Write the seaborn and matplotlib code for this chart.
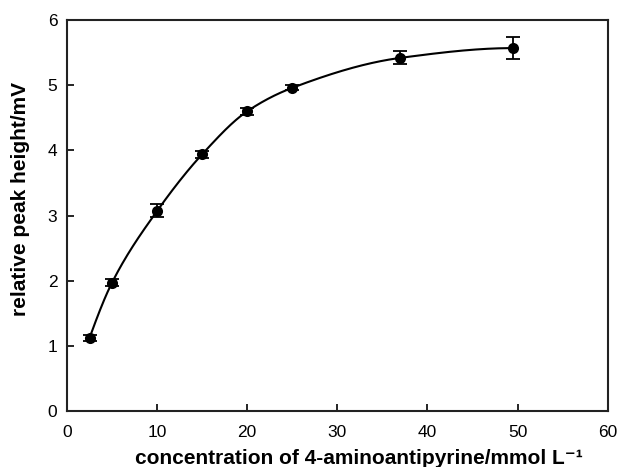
import numpy as np
import pandas as pd
import matplotlib
matplotlib.use("Agg")
import matplotlib.pyplot as plt
import seaborn as sns

# Data
concentration = [2.5, 5.0, 10.0, 15.0, 20.0, 25.0, 37.0, 49.5]
peak_height = [1.12, 1.97, 3.07, 3.94, 4.60, 4.96, 5.42, 5.57]
error = [0.04, 0.05, 0.10, 0.05, 0.05, 0.04, 0.10, 0.165]

x_ticks = [0, 10, 20, 30, 40, 50, 60]
y_ticks = [0, 1, 2, 3, 4, 5, 6]


def pchip(x, y, xs):
    x = np.asarray(x, float)
    y = np.asarray(y, float)
    h = np.diff(x)
    d = np.diff(y) / h
    n = len(x)
    m = np.zeros(n)
    for k in range(1, n - 1):
        if d[k - 1] * d[k] > 0:
            w1 = 2 * h[k] + h[k - 1]
            w2 = h[k] + 2 * h[k - 1]
            m[k] = (w1 + w2) / (w1 / d[k - 1] + w2 / d[k])
    m[0] = ((2 * h[0] + h[1]) * d[0] - h[0] * d[1]) / (h[0] + h[1])
    if np.sign(m[0]) != np.sign(d[0]):
        m[0] = 0
    m[-1] = ((2 * h[-1] + h[-2]) * d[-1] - h[-1] * d[-2]) / (h[-1] + h[-2])
    if np.sign(m[-1]) != np.sign(d[-1]):
        m[-1] = 0
    out = np.empty_like(xs)
    for i, xv in enumerate(xs):
        k = min(max(np.searchsorted(x, xv) - 1, 0), n - 2)
        t = (xv - x[k]) / h[k]
        h00 = 2 * t**3 - 3 * t**2 + 1
        h10 = t**3 - 2 * t**2 + t
        h01 = -2 * t**3 + 3 * t**2
        h11 = t**3 - t**2
        out[i] = h00 * y[k] + h10 * h[k] * m[k] + h01 * y[k + 1] + h11 * h[k] * m[k + 1]
    return out


df = pd.DataFrame({"x": concentration, "y": peak_height, "err": error})
xs = np.linspace(concentration[0], concentration[-1], 400)
curve = pd.DataFrame({"x": xs, "y": pchip(concentration, peak_height, xs)})

sns.set_theme(style="ticks")
plt.rcParams["font.family"] = ["Liberation Sans", "DejaVu Sans"]
plt.rcParams["text.color"] = "black"
plt.rcParams["axes.labelcolor"] = "black"

fig = plt.figure(figsize=(6.23, 4.67), dpi=100)
ax = fig.add_axes([0.1075, 0.12, 0.868, 0.837])

sns.lineplot(data=curve, x="x", y="y", ax=ax, color="black", lw=1.5, sort=False)
ax.errorbar(df["x"], df["y"], yerr=df["err"], fmt="none", ecolor="black",
            elinewidth=1.3, capsize=4.7, capthick=1.3, zorder=3)
sns.scatterplot(data=df, x="x", y="y", ax=ax, color="black", s=64,
                edgecolor="black", linewidth=0, zorder=4)

ax.set_xlim(0, 60)
ax.set_ylim(0, 6)
ax.set_xticks(x_ticks)
ax.set_yticks(y_ticks)
ax.tick_params(direction="in", length=5, width=1.2, labelsize=12.5,
               colors="black")
ax.tick_params(axis="x", pad=10)
ax.tick_params(axis="y", pad=7)
for s in ax.spines.values():
    s.set_linewidth(1.5)
    s.set_color("#222222")

ax.set_xlabel("concentration of 4-aminoantipyrine/mmol L\u207b\u00b9",
              fontsize=15, fontweight="bold", va="top", color="black")
ax.xaxis.set_label_coords(0.54, -0.097)
ax.set_ylabel("relative peak height/mV", fontsize=15, fontweight="bold",
              color="black")
ax.yaxis.set_label_coords(-0.068, 0.5435)

fig.savefig("out.png", dpi=100)
